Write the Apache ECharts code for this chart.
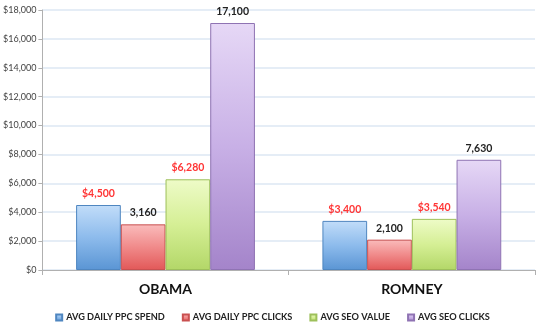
<!DOCTYPE html>
<html>
<head>
<meta charset="utf-8">
<script src="https://cdn.jsdelivr.net/npm/echarts@6/dist/echarts.min.js"></script>
<style>
  html, body { margin: 0; padding: 0; background: #fff; }
  #chart { width: 545px; height: 330px; }
</style>
</head>
<body>
<div id="chart"></div>
<script>
// Candidates and the four measured series
const candidates = ['OBAMA', 'ROMNEY'];
const seriesNames = ['AVG DAILY PPC SPEND', 'AVG DAILY PPC CLICKS', 'AVG SEO VALUE', 'AVG SEO CLICKS'];
const ppcSpend = [4500, 3400];
const ppcClicks = [3160, 2100];
const seoValue = [6280, 3540];
const seoClicks = [17100, 7630];
const isMoney = [true, false, true, false];

const palette = [
  { top: '#c2ddf9', mid: '#8dbbec', bottom: '#5a95d4', edge: '#4f86c0' },
  { top: '#fabcbc', mid: '#f08a8a', bottom: '#e25858', edge: '#c95050' },
  { top: '#eefbc8', mid: '#d5ef95', bottom: '#b3d768', edge: '#9dc05a' },
  { top: '#e6d8f6', mid: '#c8b0e6', bottom: '#a484ca', edge: '#8f73b3' }
];
const values = [ppcSpend, ppcClicks, seoValue, seoClicks];

const fmt = n => n.toLocaleString('en-US');
const fontFamily = 'Lato, "Open Sans", sans-serif';

const chart = echarts.init(document.getElementById('chart'));
chart.setOption({
  animation: false,
  textStyle: { fontFamily },
  grid: { left: 38, right: 10, top: 10, bottom: 60 },
  legend: {
    top: 308,
    left: 'center',
    itemWidth: 6,
    itemHeight: 6,
    itemGap: 17,
    textStyle: { fontSize: 9.2, fontWeight: 'bold', color: '#222', fontFamily, padding: [0, 0, 0, -1] },
    data: seriesNames.map(n => ({ name: n, icon: 'rect' }))
  },
  xAxis: {
    type: 'category',
    data: candidates,
    axisLine: { lineStyle: { color: '#b0b0b0' } },
    axisTick: { show: true, length: 5, lineStyle: { color: '#b0b0b0' } },
    axisLabel: { fontSize: 14, fontWeight: 'bold', color: '#111', margin: 12, fontFamily }
  },
  yAxis: {
    type: 'value',
    min: 0,
    max: 18000,
    interval: 2000,
    axisLine: { show: true, lineStyle: { color: '#b0b0b0' } },
    axisTick: { show: true, length: 4, lineStyle: { color: '#b0b0b0' } },
    splitLine: { lineStyle: { color: '#dde7f3', width: 1.5 } },
    axisLabel: { fontSize: 9, color: '#444', margin: 6, formatter: v => '$' + fmt(v) }
  },
  series: seriesNames.map((name, i) => ({
    name,
    type: 'bar',
    data: values[i],
    barGap: '0%',
    barCategoryGap: '27.4%',
    itemStyle: {
      color: new echarts.graphic.LinearGradient(0, 0, 0, 1, [
        { offset: 0, color: palette[i].top },
        { offset: 0.5, color: palette[i].mid },
        { offset: 1, color: palette[i].bottom }
      ]),
      borderColor: palette[i].edge,
      borderWidth: 1
    },
    label: {
      show: true,
      position: 'top',
      distance: 6,
      fontSize: 10.5,
      fontWeight: 'bold',
      color: isMoney[i] ? '#ff3535' : '#222',
      fontFamily,
      formatter: p => (isMoney[i] ? '$' : '') + fmt(p.value)
    }
  }))
});
</script>
</body>
</html>
